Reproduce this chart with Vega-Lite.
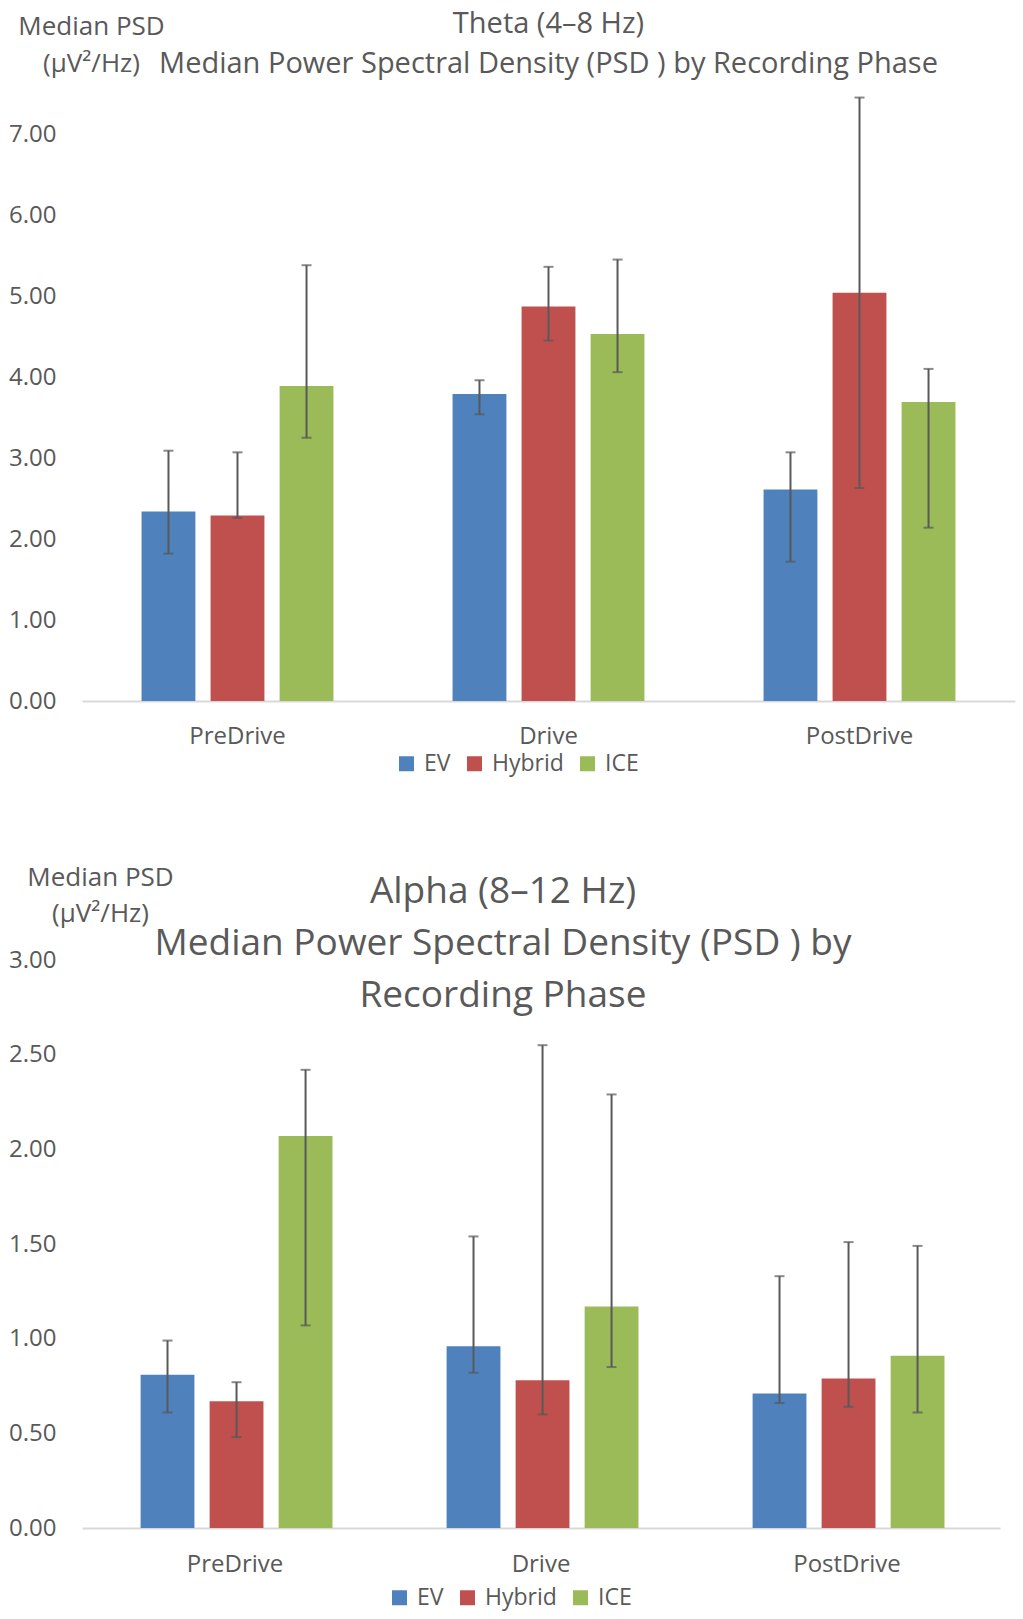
{
  "$schema": "https://vega.github.io/schema/vega-lite/v6.json",
  "background": "white",
  "padding": {"left": 8, "top": 10, "right": 5, "bottom": 3},
  "config": {
    "view": {"stroke": null},
    "font": "Open Sans",
    "axis": {"labelFont": "Open Sans", "titleFont": "Open Sans", "labelColor": "#595959", "titleColor": "#595959", "grid": false, "ticks": false},
    "title": {"font": "Open Sans", "color": "#595959", "fontWeight": "normal", "anchor": "middle", "frame": "group"},
    "legend": {"labelFont": "Open Sans", "labelColor": "#595959"}
  },
  "datasets": {
    "theta": [
      {"phase": "PreDrive", "type": "EV", "median": 2.34, "lo": 1.82, "hi": 3.09},
      {"phase": "PreDrive", "type": "Hybrid", "median": 2.29, "lo": 2.26, "hi": 3.07},
      {"phase": "PreDrive", "type": "ICE", "median": 3.89, "lo": 3.25, "hi": 5.38},
      {"phase": "Drive", "type": "EV", "median": 3.79, "lo": 3.54, "hi": 3.96},
      {"phase": "Drive", "type": "Hybrid", "median": 4.87, "lo": 4.45, "hi": 5.36},
      {"phase": "Drive", "type": "ICE", "median": 4.53, "lo": 4.06, "hi": 5.45},
      {"phase": "PostDrive", "type": "EV", "median": 2.61, "lo": 1.72, "hi": 3.07},
      {"phase": "PostDrive", "type": "Hybrid", "median": 5.04, "lo": 2.63, "hi": 7.45},
      {"phase": "PostDrive", "type": "ICE", "median": 3.69, "lo": 2.14, "hi": 4.10}
    ],
    "alpha": [
      {"phase": "PreDrive", "type": "EV", "median": 0.81, "lo": 0.61, "hi": 0.99},
      {"phase": "PreDrive", "type": "Hybrid", "median": 0.67, "lo": 0.48, "hi": 0.77},
      {"phase": "PreDrive", "type": "ICE", "median": 2.07, "lo": 1.07, "hi": 2.42},
      {"phase": "Drive", "type": "EV", "median": 0.96, "lo": 0.82, "hi": 1.54},
      {"phase": "Drive", "type": "Hybrid", "median": 0.78, "lo": 0.60, "hi": 2.55},
      {"phase": "Drive", "type": "ICE", "median": 1.17, "lo": 0.85, "hi": 2.29},
      {"phase": "PostDrive", "type": "EV", "median": 0.71, "lo": 0.66, "hi": 1.33},
      {"phase": "PostDrive", "type": "Hybrid", "median": 0.79, "lo": 0.64, "hi": 1.51},
      {"phase": "PostDrive", "type": "ICE", "median": 0.91, "lo": 0.61, "hi": 1.49}
    ]
  },
  "resolve": {"scale": {"color": "independent"}, "legend": {"color": "independent"}},
  "spacing": 88,
  "vconcat": [
    {
      "data": {"name": "theta"},
      "width": 933,
      "height": 648,
      "title": {
        "text": ["Theta (4–8 Hz)", "Median Power Spectral Density (PSD ) by Recording Phase"],
        "fontSize": 29,
        "lineHeight": 40,
        "offset": -66
      },
      "encoding": {
        "x": {
          "field": "phase", "type": "nominal", "sort": ["PreDrive", "Drive", "PostDrive"],
          "scale": {"paddingInner": 0.383, "paddingOuter": 0.1915},
          "axis": {"title": null, "labelAngle": 0, "labelFontSize": 24, "labelPadding": 23, "domainColor": "#d9d9d9", "domainWidth": 2}
        },
        "xOffset": {"field": "type", "type": "nominal", "sort": ["EV", "Hybrid", "ICE"], "scale": {"paddingInner": 0.22, "paddingOuter": 0}}
      },
      "layer": [
        {
          "mark": {"type": "bar"},
          "encoding": {
            "y": {
              "field": "median", "type": "quantitative",
              "scale": {"domain": [0, 8], "nice": false},
              "axis": {
                "values": [0, 1, 2, 3, 4, 5, 6, 7], "format": ".2f", "labelFontSize": 24, "labelPadding": 26, "domain": false,
                "title": ["Median PSD", "(µV²/Hz)"], "titleAngle": 0, "titleAlign": "center", "titleBaseline": "top",
                "titleFontSize": 26, "titleFontWeight": "normal", "titleLineHeight": 37, "titleX": 9, "titleY": -40
              }
            },
            "color": {
              "field": "type", "type": "nominal", "sort": ["EV", "Hybrid", "ICE"],
              "scale": {"domain": ["EV", "Hybrid", "ICE"], "range": ["#4F81BD", "#C0504D", "#9BBB59"]},
              "legend": {
                "orient": "none", "legendX": 313, "legendY": 699, "direction": "horizontal", "title": null,
                "symbolType": "square", "symbolSize": 225, "symbolStrokeWidth": 0, "labelFontSize": 23, "columnPadding": 12, "labelOffset": 6
              }
            }
          }
        },
        {
          "mark": {"type": "rule", "color": "#595959", "strokeWidth": 2},
          "encoding": {"y": {"field": "lo", "type": "quantitative"}, "y2": {"field": "hi"}}
        },
        {
          "mark": {"type": "tick", "color": "#595959", "size": 10, "thickness": 2},
          "encoding": {"y": {"field": "lo", "type": "quantitative"}}
        },
        {
          "mark": {"type": "tick", "color": "#595959", "size": 10, "thickness": 2},
          "encoding": {"y": {"field": "hi", "type": "quantitative"}}
        }
      ]
    },
    {
      "data": {"name": "alpha"},
      "width": 918,
      "height": 568,
      "title": {
        "text": ["Alpha (8–12 Hz)", "Median Power Spectral Density (PSD ) by", "Recording Phase"],
        "fontSize": 37,
        "lineHeight": 52,
        "offset": -151,
        "dx": -38
      },
      "encoding": {
        "x": {
          "field": "phase", "type": "nominal", "sort": ["PreDrive", "Drive", "PostDrive"],
          "scale": {"paddingInner": 0.383, "paddingOuter": 0.1915},
          "axis": {"title": null, "labelAngle": 0, "labelFontSize": 24, "labelPadding": 24, "domainColor": "#d9d9d9", "domainWidth": 2}
        },
        "xOffset": {"field": "type", "type": "nominal", "sort": ["EV", "Hybrid", "ICE"], "scale": {"paddingInner": 0.22, "paddingOuter": 0}}
      },
      "layer": [
        {
          "mark": {"type": "bar"},
          "encoding": {
            "y": {
              "field": "median", "type": "quantitative",
              "scale": {"domain": [0, 3], "nice": false},
              "axis": {
                "values": [0, 0.5, 1, 1.5, 2, 2.5, 3], "format": ".2f", "labelFontSize": 24, "labelPadding": 26, "domain": false,
                "title": ["Median PSD", "(µV²/Hz)"], "titleAngle": 0, "titleAlign": "center", "titleBaseline": "top",
                "titleFontSize": 26, "titleFontWeight": "normal", "titleLineHeight": 36, "titleX": 18, "titleY": -96
              }
            },
            "color": {
              "field": "type", "type": "nominal", "sort": ["EV", "Hybrid", "ICE"],
              "scale": {"domain": ["EV", "Hybrid", "ICE"], "range": ["#4F81BD", "#C0504D", "#9BBB59"]},
              "legend": {
                "orient": "none", "legendX": 306, "legendY": 626, "direction": "horizontal", "title": null,
                "symbolType": "square", "symbolSize": 225, "symbolStrokeWidth": 0, "labelFontSize": 23, "columnPadding": 12, "labelOffset": 6
              }
            }
          }
        },
        {
          "mark": {"type": "rule", "color": "#595959", "strokeWidth": 2},
          "encoding": {"y": {"field": "lo", "type": "quantitative"}, "y2": {"field": "hi"}}
        },
        {
          "mark": {"type": "tick", "color": "#595959", "size": 10, "thickness": 2},
          "encoding": {"y": {"field": "lo", "type": "quantitative"}}
        },
        {
          "mark": {"type": "tick", "color": "#595959", "size": 10, "thickness": 2},
          "encoding": {"y": {"field": "hi", "type": "quantitative"}}
        }
      ]
    }
  ]
}
